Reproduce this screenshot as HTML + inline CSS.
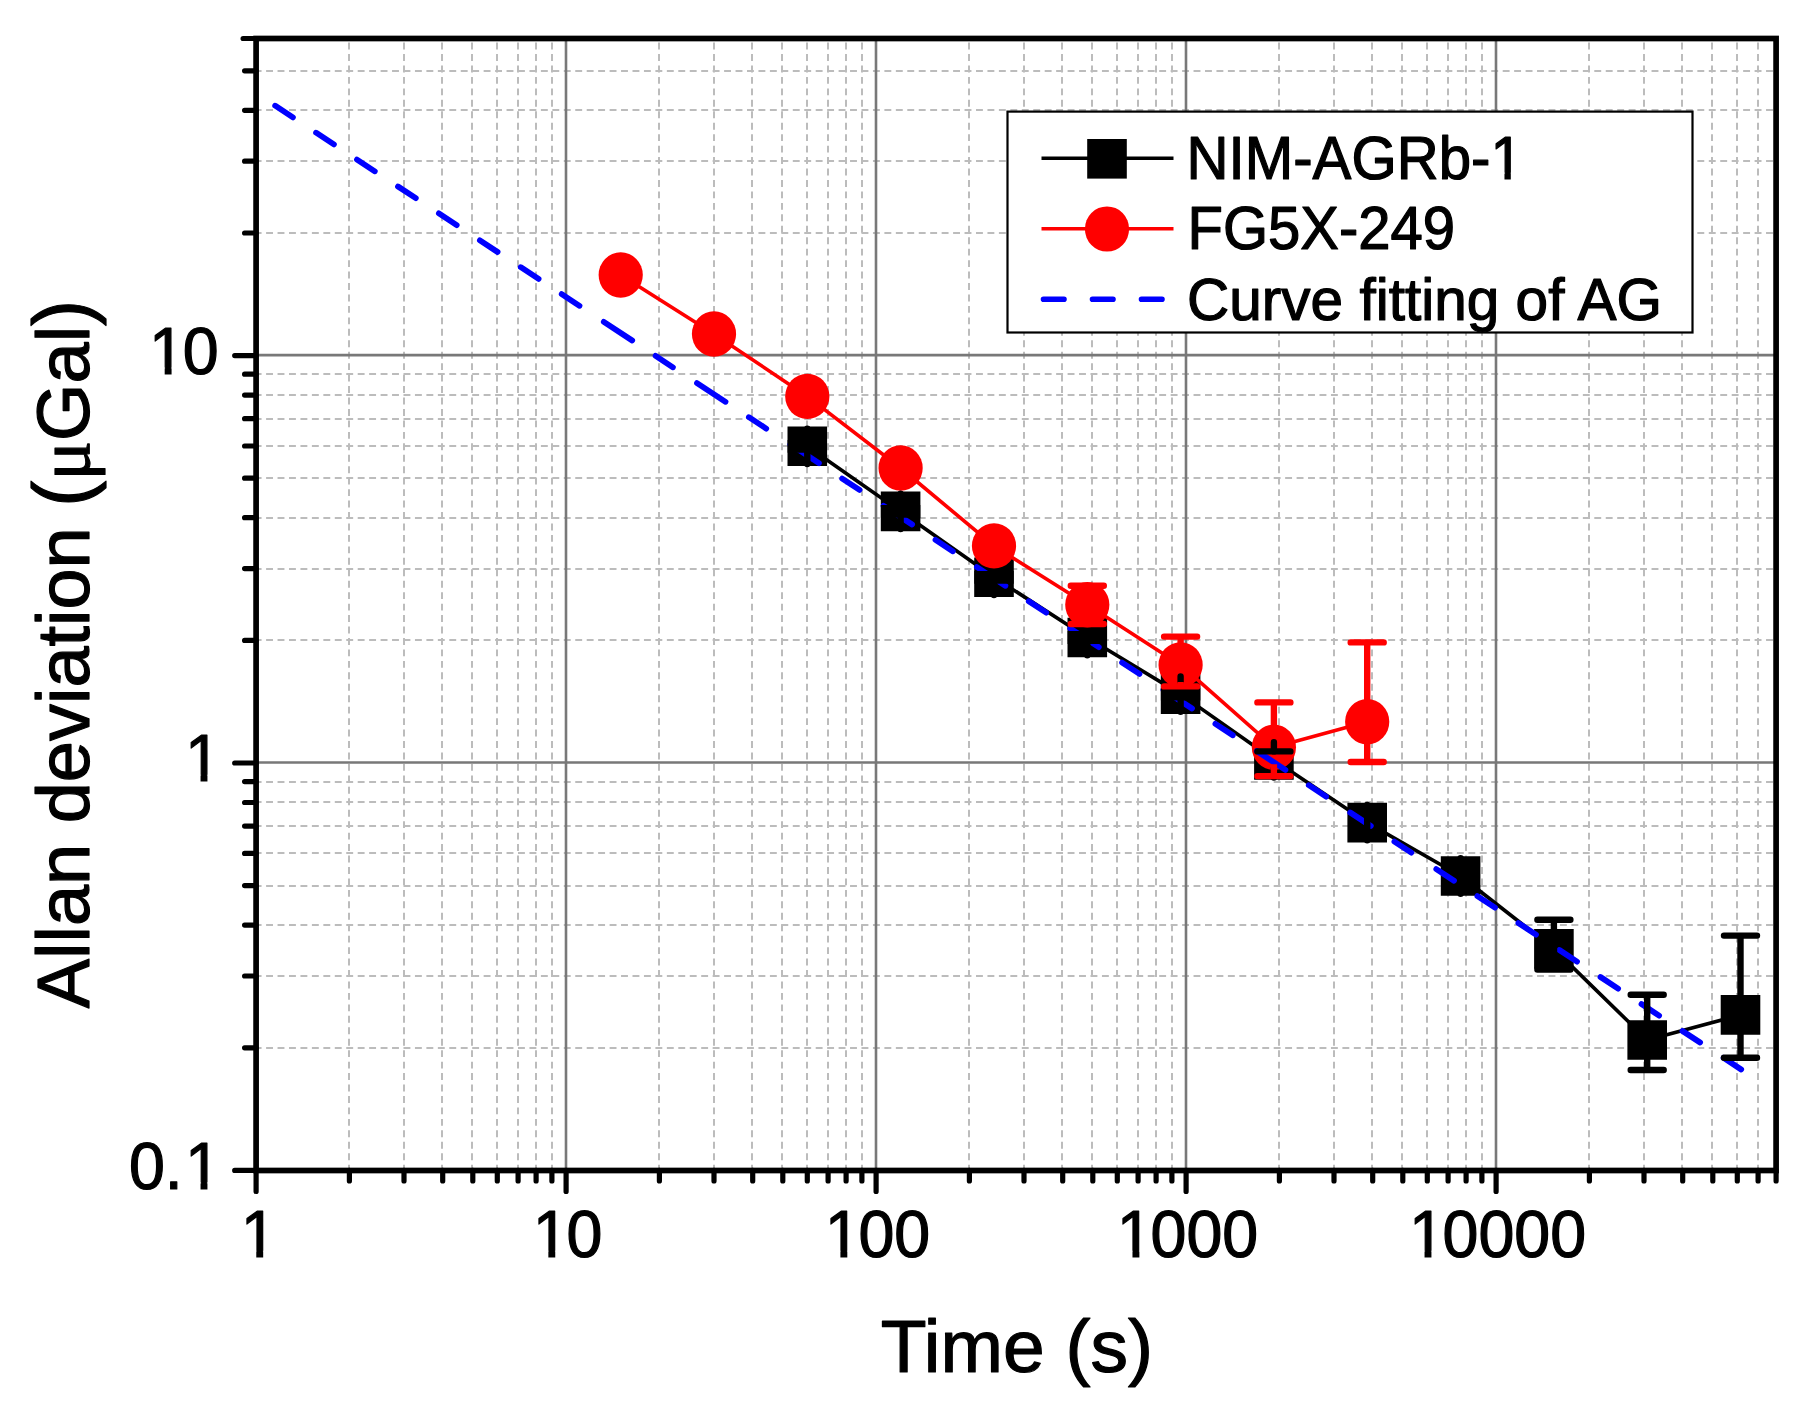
<!DOCTYPE html>
<html lang="en"><head><meta charset="utf-8"><title>Allan deviation</title><style>html,body{margin:0;padding:0;background:#fff}body{width:1806px;height:1409px;overflow:hidden}</style></head><body>
<svg width="1806" height="1409" viewBox="0 0 1806 1409" style="display:block">
<rect width="1806" height="1409" fill="#fff"/>
<g stroke="#bcbcbc" stroke-width="2" fill="none">
<path stroke-dasharray="6.9 4.55" d="M349 42.6V1170.4M404 42.6V1170.4M442 42.6V1170.4M472 42.6V1170.4M497 42.6V1170.4M518 42.6V1170.4M536 42.6V1170.4M552 42.6V1170.4M659 42.6V1170.4M714 42.6V1170.4M752 42.6V1170.4M782 42.6V1170.4M807 42.6V1170.4M828 42.6V1170.4M846 42.6V1170.4M862 42.6V1170.4M969 42.6V1170.4M1024 42.6V1170.4M1062 42.6V1170.4M1092 42.6V1170.4M1117 42.6V1170.4M1138 42.6V1170.4M1156 42.6V1170.4M1172 42.6V1170.4M1279 42.6V1170.4M1334 42.6V1170.4M1372 42.6V1170.4M1402 42.6V1170.4M1427 42.6V1170.4M1448 42.6V1170.4M1466 42.6V1170.4M1482 42.6V1170.4M1589 42.6V1170.4M1644 42.6V1170.4M1682 42.6V1170.4M1712 42.6V1170.4M1737 42.6V1170.4M1758 42.6V1170.4"/>
<path stroke-dasharray="6.9 4.55" d="M254.65 1048H1776.1M254.65 976H1776.1M254.65 925H1776.1M254.65 886H1776.1M254.65 853H1776.1M254.65 826H1776.1M254.65 802H1776.1M254.65 782H1776.1M254.65 640H1776.1M254.65 569H1776.1M254.65 518H1776.1M254.65 478H1776.1M254.65 446H1776.1M254.65 419H1776.1M254.65 395H1776.1M254.65 374H1776.1M254.65 233H1776.1M254.65 161H1776.1M254.65 110H1776.1M254.65 71H1776.1"/>
</g>
<path stroke="#787878" stroke-width="2.6" fill="none" d="M566.0 38.5V1170.4M876.0 38.5V1170.4M1186.0 38.5V1170.4M1496.0 38.5V1170.4M256.1 762.5H1776.1M256.1 355.1H1776.1"/>
<polyline points="807.3,446.3 900.6,511.4 994.0,577.3 1087.3,637.5 1180.6,694.1 1273.9,759.9 1367.2,822.6 1460.6,876.0 1553.9,948.9 1647.2,1040.0 1740.5,1014.9" fill="none" stroke="#000" stroke-width="3.6" stroke-linejoin="round"/>
<path fill="#000" d="M787.5 426.5h39.6v39.6h-39.6zM880.8 491.6h39.6v39.6h-39.6zM974.2 557.5h39.6v39.6h-39.6zM1067.5 617.7h39.6v39.6h-39.6zM1160.8 674.3h39.6v39.6h-39.6zM1254.1 740.1h39.6v39.6h-39.6zM1347.4 802.8h39.6v39.6h-39.6zM1440.8 856.2h39.6v39.6h-39.6zM1534.1 929.1h39.6v39.6h-39.6zM1627.4 1020.2h39.6v39.6h-39.6zM1720.7 995.1h39.6v39.6h-39.6z"/>
<polyline points="620.7,275.0 714.0,334.0 807.3,396.4 900.6,468.0 994.0,545.9 1087.3,604.8 1180.6,664.9 1273.9,747.3 1367.2,721.7" fill="none" stroke="#f00" stroke-width="3.6" stroke-linejoin="round"/>
<ellipse cx="620.7" cy="275.0" rx="22.1" ry="22.7" fill="#f00"/>
<ellipse cx="714.0" cy="334.0" rx="22.1" ry="22.7" fill="#f00"/>
<ellipse cx="807.3" cy="396.4" rx="22.1" ry="22.7" fill="#f00"/>
<ellipse cx="900.6" cy="468.0" rx="22.1" ry="22.7" fill="#f00"/>
<ellipse cx="994.0" cy="545.9" rx="22.1" ry="22.7" fill="#f00"/>
<ellipse cx="1087.3" cy="604.8" rx="22.1" ry="22.7" fill="#f00"/>
<ellipse cx="1180.6" cy="664.9" rx="22.1" ry="22.7" fill="#f00"/>
<ellipse cx="1273.9" cy="747.3" rx="22.1" ry="22.7" fill="#f00"/>
<ellipse cx="1367.2" cy="721.7" rx="22.1" ry="22.7" fill="#f00"/>
<path d="M275.2 105.7L292.9 117.4M316.1 132.7L333.9 144.4M357.0 159.6L374.8 171.3M398.0 186.5L415.8 198.2M438.9 213.4L456.7 225.1M479.9 240.3L497.6 252.0M520.8 267.2L538.6 278.9M561.7 294.1L579.5 305.8M603.8 321.8L632.2 340.5M655.6 355.9L672.9 367.3M697.0 383.1L725.5 401.8M748.9 417.2L766.2 428.6M790.4 444.4L818.9 463.2M842.2 478.6L859.5 489.9M883.6 505.8L912.1 524.5M935.5 539.9L952.8 551.3M976.9 567.1L1005.4 585.8M1028.8 601.2L1046.2 612.6M1070.2 628.4L1098.8 647.2M1122.1 662.6L1139.5 673.9M1163.5 689.8L1192.0 708.5M1215.4 723.9L1232.8 735.3M1256.8 751.1L1285.4 769.9M1308.8 785.2L1326.1 796.6M1350.2 812.5L1370.8 826.0M1394.4 841.6L1411.3 852.7M1436.3 869.1L1454.0 880.7M1477.4 896.1L1495.0 907.7M1518.4 923.1L1536.0 934.6M1559.4 950.0L1577.0 961.6M1600.5 977.0L1618.1 988.6M1641.5 1004.0L1659.1 1015.6M1682.5 1031.0L1700.1 1042.5M1723.6 1057.9L1741.2 1069.5" stroke="#00f" stroke-width="5.8" stroke-linecap="round" fill="none"/>
<path fill="#000" d="M787.6 439.9h39.4v12.8h-39.4zM880.9 505.0h39.4v12.8h-39.4zM974.3 570.9h39.4v12.8h-39.4zM1067.6 631.1h39.4v12.8h-39.4zM1160.9 687.7h39.4v12.8h-39.4z"/>
<path d="M807.3 428.6V464.0M900.6 493.7V529.1M1180.6 676.4V711.8M1367.2 804.9V840.3M1460.6 858.3V893.7M1553.9 931.2V966.6M1647.2 1022.3V1057.7M1740.5 997.2V1032.6" stroke="#000" stroke-width="6.4" stroke-linecap="round" fill="none"/>
<path d="M1273.9 742.2V751.4M1273.9 768.4V777.6" stroke="#000" stroke-width="6.4" stroke-linecap="round" fill="none"/>
<path d="M994.0 577.3V595.0M1087.3 637.5V655.2" stroke="#000" stroke-width="6.4" stroke-linecap="round" fill="none"/>
<g stroke="#000" stroke-width="6.4" fill="none"><path d="M1273.9 751.4V751.4M1553.9 919.7V969.5M1647.2 994.8V1070.0M1740.5 935.6V1057.7"/><path stroke-linecap="round" d="M1257.4 751.4h33M1257.4 751.4h33M1537.4 919.7h33M1537.4 969.5h33M1630.7 994.8h33M1630.7 1070.0h33M1724.0 935.6h33M1724.0 1057.7h33"/></g>
<g stroke="#f00" stroke-width="6.4" fill="none"><path d="M1087.3 585.7V587.8M1087.3 621.8V624.0M1180.6 636.6V647.9M1180.6 681.9V686.4M1273.9 702.4V730.3M1273.9 764.3V776.1M1367.2 642.4V704.7M1367.2 738.7V762.0"/><path stroke-linecap="round" d="M1070.8 585.7h33M1070.8 624.0h33M1164.1 636.6h33M1164.1 686.4h33M1257.4 702.4h33M1257.4 776.1h33M1350.7 642.4h33M1350.7 762.0h33"/></g>
<rect x="256.1" y="38.5" width="1520.0" height="1132.0" fill="none" stroke="#000" stroke-width="5.7"/>
<path d="M256.1 1170.4v21.0M349.4 1170.4v10.6M404.0 1170.4v10.6M442.7 1170.4v10.6M472.8 1170.4v10.6M497.3 1170.4v10.6M518.1 1170.4v10.6M536.1 1170.4v10.6M551.9 1170.4v10.6M566.1 1170.4v21.0M659.4 1170.4v10.6M714.0 1170.4v10.6M752.7 1170.4v10.6M782.8 1170.4v10.6M807.3 1170.4v10.6M828.1 1170.4v10.6M846.1 1170.4v10.6M861.9 1170.4v10.6M876.1 1170.4v21.0M969.4 1170.4v10.6M1024.0 1170.4v10.6M1062.7 1170.4v10.6M1092.8 1170.4v10.6M1117.3 1170.4v10.6M1138.1 1170.4v10.6M1156.1 1170.4v10.6M1171.9 1170.4v10.6M1186.1 1170.4v21.0M1279.4 1170.4v10.6M1334.0 1170.4v10.6M1372.7 1170.4v10.6M1402.8 1170.4v10.6M1427.3 1170.4v10.6M1448.1 1170.4v10.6M1466.1 1170.4v10.6M1481.9 1170.4v10.6M1496.1 1170.4v21.0M1589.4 1170.4v10.6M1644.0 1170.4v10.6M1682.7 1170.4v10.6M1712.8 1170.4v10.6M1737.3 1170.4v10.6M1758.1 1170.4v10.6M1776.1 1170.4v10.6M256.1 1170.4h-21.4M256.1 1047.8h-11.5M256.1 976.0h-11.5M256.1 925.1h-11.5M256.1 885.6h-11.5M256.1 853.4h-11.5M256.1 826.1h-11.5M256.1 802.5h-11.5M256.1 781.6h-11.5M256.1 763.0h-21.4M256.1 640.4h-11.5M256.1 568.6h-11.5M256.1 517.7h-11.5M256.1 478.2h-11.5M256.1 446.0h-11.5M256.1 418.7h-11.5M256.1 395.1h-11.5M256.1 374.2h-11.5M256.1 355.6h-21.4M256.1 233.0h-11.5M256.1 161.2h-11.5M256.1 110.3h-11.5M256.1 70.8h-11.5M256.1 38.5h-13.0" stroke="#000" stroke-width="5.2" stroke-linecap="round" fill="none"/>
<g font-family="Liberation Sans, Arial, Helvetica, sans-serif" font-size="64.5" fill="#000" stroke="#000" stroke-width="1.2" stroke-linejoin="round">
<text transform="translate(256.4,1257.2) scale(1,1.04)" x="-15.74">1</text>
<text transform="translate(566.4,1257.2) scale(1,1.04)" x="-33.67 0.00">10</text>
<text transform="translate(876.4,1257.2) scale(1,1.04)" x="-51.61 -17.94 17.94">100</text>
<text transform="translate(1186.4,1257.2) scale(1,1.04)" x="-69.54 -35.87 0.00 35.87">1000</text>
<text transform="translate(1496.4,1257.2) scale(1,1.04)" x="-87.48 -53.81 -17.94 17.94 53.81">10000</text>
<text transform="translate(218.6,373.8) scale(1,1.04)" x="-69.54 -35.87">10</text>
<text transform="translate(218.6,781.2) scale(1,1.04)" x="-33.67">1</text>
<text transform="translate(218.6,1188.6) scale(1,1.04)" x="-89.66 -53.79 -33.67">0.1</text>
</g>
<g font-family="Liberation Sans, Arial, Helvetica, sans-serif" font-size="75" fill="#000" stroke="#000" stroke-width="1.2" stroke-linejoin="round">
<text transform="translate(1016.9,1372)" text-anchor="middle">Time (s)</text>
<text transform="translate(89.3,654) rotate(-90) scale(0.986,1)" text-anchor="middle">Allan deviation <tspan font-size="79.5">(</tspan><tspan font-family="Liberation Serif, DejaVu Serif, serif">μ</tspan>Gal<tspan font-size="79.5">)</tspan></text>
</g>
<rect x="1007.5" y="111.6" width="685" height="220.9" fill="#fff" stroke="#000" stroke-width="2.2"/>
<rect x="1087.2" y="139" width="39.6" height="39.6" fill="#000"/><line x1="1041.5" y1="158.3" x2="1173.5" y2="158.3" stroke="#000" stroke-width="3.6"/>
<line x1="1041.5" y1="228.7" x2="1173.5" y2="228.7" stroke="#f00" stroke-width="3.6"/><ellipse cx="1107" cy="229" rx="22.1" ry="22.6" fill="#f00"/>
<path d="M1043.5 299.3h20.5M1092.5 299.3h20.5M1141.5 299.3h20.5" stroke="#00f" stroke-width="5.6" stroke-linecap="round" fill="none"/>
<g font-family="Liberation Sans, Arial, Helvetica, sans-serif" font-size="58" fill="#000" stroke="#000" stroke-width="1.2" stroke-linejoin="round">
<text transform="translate(1186.5,178.5) scale(1,1.04)" textLength="336.3" lengthAdjust="spacingAndGlyphs">NIM-AGRb-1</text>
<text transform="translate(1187.5,248.5) scale(1,1.04)" textLength="267.6" lengthAdjust="spacingAndGlyphs">FG5X-249</text>
<text transform="translate(1187,320) scale(1,1.01)" textLength="475" lengthAdjust="spacingAndGlyphs">Curve fitting of AG</text>
</g>
<path fill="#fff" d="M243.48 1250.79H256.28v7.81H243.48zM263.18 1250.79H275.49v7.81H263.18zM535.54 1250.79H548.35v7.81H535.54zM555.25 1250.79H567.55v7.81H555.25zM827.61 1250.79H840.41v7.81H827.61zM847.31 1250.79H859.61v7.81H847.31zM1119.67 1250.79H1132.48v7.81H1119.67zM1139.38 1250.79H1151.68v7.81H1139.38zM1411.73 1250.79H1424.54v7.81H1411.73zM1431.44 1250.79H1443.74v7.81H1431.44zM151.87 367.39H164.68v7.81H151.87zM171.58 367.39H183.88v7.81H171.58zM187.74 774.79H200.55v7.81H187.74zM207.45 774.79H219.75v7.81H207.45zM187.74 1182.19H200.55v7.81H187.74zM207.45 1182.19H219.75v7.81H207.45zM1492.77 172.59H1504.47v7.31H1492.77zM1510.81 172.59H1522.06v7.31H1510.81z"/>
</svg>
</body></html>
